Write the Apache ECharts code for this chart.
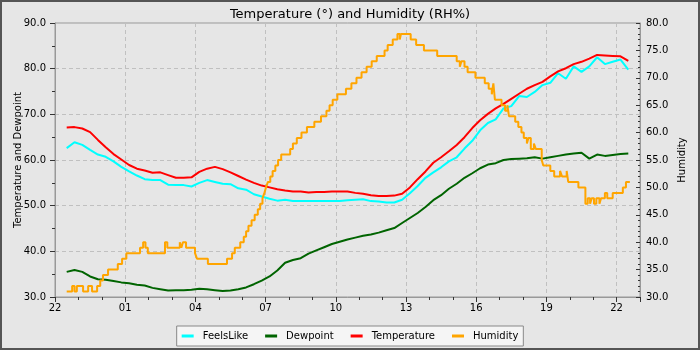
<!DOCTYPE html>
<html><head><meta charset="utf-8">
<script src="https://cdn.jsdelivr.net/npm/echarts@6/dist/echarts.min.js"></script>
<style>html,body{margin:0;padding:0;background:#e6e6e6}#c{width:700px;height:350px}</style>
</head><body><div id="c"></div>
<script>
// ---- data ----
const times = ["22:30","22:50","23:10","23:30","23:50","00:10","00:30","00:50","01:10","01:30","01:50","02:10","02:30","02:50","03:10","03:30","03:50","04:10","04:30","04:50","05:10","05:30","05:50","06:10","06:30","06:50","07:10","07:30","07:50","08:10","08:30","08:50","09:10","09:30","09:50","10:10","10:30","10:50","11:10","11:30","11:50","12:10","12:30","12:50","13:10","13:30","13:50","14:10","14:30","14:50","15:10","15:30","15:50","16:10","16:30","16:50","17:10","17:30","17:50","18:10","18:30","18:50","19:10","19:30","19:50","20:10","20:30","20:50","21:10","21:30","21:50","22:10","22:30"];
const temperature = [67.1,67.2,66.9,66.1,64.4,62.8,61.3,60.1,58.9,58.1,
  57.7,57.2,57.3,56.7,56.1,56.1,56.2,57.4,58.1,58.5,
  58.0,57.3,56.5,55.7,55.0,54.4,54.0,53.6,53.3,53.1,
  53.1,52.9,53.0,53.0,53.1,53.1,53.1,52.8,52.6,52.3,
  52.1,52.1,52.2,52.6,54.0,55.8,57.5,59.4,60.6,61.9,
  63.3,65.0,67.0,68.7,70.1,71.3,72.3,73.4,74.5,75.6,
  76.4,77.1,78.3,79.4,80.1,81.0,81.5,82.2,83.0,82.9,
  82.8,82.7,81.7];
const feelsLike = [62.6,63.9,63.3,62.2,61.2,60.7,59.7,58.5,57.5,56.6,
  55.8,55.6,55.6,54.6,54.5,54.5,54.2,55.0,55.6,55.2,
  54.8,54.7,53.8,53.5,52.5,52.0,51.5,51.1,51.3,51.0,
  51.0,51.0,51.0,51.0,51.0,51.0,51.2,51.3,51.4,51.0,
  50.9,50.7,50.7,51.3,52.7,54.3,56.1,57.3,58.4,59.7,
  60.6,62.5,64.2,66.5,68.1,68.9,71.3,71.8,74.0,73.8,
  74.9,76.4,76.9,79.0,77.8,80.5,79.3,80.5,82.5,81.0,
  81.5,82.0,79.8];
const dewpoint = [35.5,35.9,35.5,34.5,33.9,33.8,33.5,33.2,33.0,32.7,
  32.5,32.0,31.7,31.4,31.5,31.5,31.6,31.8,31.7,31.5,
  31.3,31.4,31.7,32.1,32.8,33.6,34.5,35.8,37.5,38.1,
  38.5,39.5,40.2,40.9,41.6,42.1,42.6,43.0,43.4,43.7,
  44.1,44.6,45.1,46.2,47.3,48.4,49.7,51.2,52.3,53.7,
  54.8,56.1,57.1,58.2,59.0,59.3,60.0,60.2,60.3,60.4,
  60.6,60.3,60.6,60.9,61.2,61.4,61.6,60.3,61.2,60.9,
  61.1,61.3,61.4];
const humidityTimes = ["22:30","22:44","22:50","22:56","23:12","23:25","23:35","23:48","23:56","00:03","00:16","00:41","00:52","01:03","01:38","01:46","01:52","01:58","02:42","02:48","03:20","03:24","03:28","03:36","03:59","04:04","04:32","05:21","05:34","05:41","05:55","06:04","06:10","06:16","06:24","06:32","06:40","06:46","06:52","06:57","07:01","07:06","07:12","07:18","07:25","07:32","07:40","08:03","08:10","08:20","08:32","08:46","09:05","09:22","09:36","09:44","09:52","10:04","10:26","10:40","10:53","11:06","11:19","11:32","11:45","12:05","12:13","12:26","12:38","12:44","12:47","13:12","13:26","13:46","14:20","15:10","15:18","15:22","15:30","15:38","15:58","16:22","16:32","16:40","16:44","16:48","17:05","17:14","17:20","17:24","17:40","17:48","17:56","18:02","18:10","18:14","18:20","18:28","18:33","18:48","18:52","19:10","19:20","19:35","19:40","19:52","19:56","20:22","20:40","20:46","20:52","20:56","21:02","21:08","21:16","21:20","21:30","21:36","21:50","22:16","22:24","22:34"];
const humidity = [31,32,31,32,31,32,31,32,33,34,35,36,37,38,39,40,39,38,40,39,40,39,40,39,38,37,36,37,38,39,40,41,42,43,44,45,46,47,48,49,50,51,52,53,54,55,56,57,58,59,60,61,62,63,64,65,66,67,68,69,70,71,72,73,74,75,76,77,78,77,78,77,76,75,74,73,72,73,72,71,70,69,68,67,69,66,65,64,65,63,62,61,60,59,58,59,57,58,57,55,54,53,52,53,52,53,51,50,47,48,47,48,47,48,47,48,49,48,49,50,51,51];
const seriesNames = ["FeelsLike","Dewpoint","Temperature","Humidity"];
const seriesColors = ["#00ffff","#006400","#ff0000","#ffa500"];
const xTickHours = 3;

// ---- helpers ----
function toHours(list){
  let prev = -1;
  return list.map(t => {
    const [H, M] = t.split(':').map(Number);
    let h = ((H * 60 + M) / 60 - 22 + 24) % 24;
    while (h < prev - 1e-6) h += 24;
    prev = h;
    return h;
  });
}
const hrs = toHours(times);
const hHrs = toHours(humidityTimes);
const pair = (xs, ys) => xs.map((x, i) => [x, ys[i]]);

const font = 'DejaVu Sans';
const chart = echarts.init(document.getElementById('c'), null, {renderer: 'canvas'});
chart.setOption({
  backgroundColor: '#e6e6e6',
  animation: false,
  textStyle: {fontFamily: font},
  title: {
    text: 'Temperature (°) and Humidity (RH%)',
    left: 'center', top: 3,
    textStyle: {fontFamily: font, fontSize: 13, fontWeight: 'normal', color: '#000'}
  },
  graphic: [{
    type: 'rect', silent: true, z: 100,
    shape: {x: 1, y: 1, width: 698, height: 348},
    style: {fill: 'none', stroke: '#555', lineWidth: 2}
  }],
  grid: {left: 55, right: 60, top: 23, bottom: 53, outerBoundsMode: 'none', containLabel: false,
    show: true, borderColor: '#999', borderWidth: 1, backgroundColor: 'transparent'},
  legend: {
    data: seriesNames,
    left: 'center', top: 326,
    icon: 'rect', itemWidth: 12, itemHeight: 3, itemGap: 17,
    backgroundColor: '#f5f5f5', borderColor: '#888', borderWidth: 1, borderRadius: 0,
    padding: [5, 5],
    textStyle: {fontFamily: font, fontSize: 10, color: '#000', padding: [0, 0, 0, 4]}
  },
  xAxis: {
    type: 'value', min: 0, max: 25, interval: xTickHours,
    axisLine: {show: true, lineStyle: {color: '#999'}},
    axisTick: {show: true, length: 5, lineStyle: {color: '#333'}},
    minorTick: {show: true, splitNumber: 3, length: 3, lineStyle: {color: '#333'}},
    axisLabel: {color: '#000', fontSize: 10, fontFamily: font, margin: 6, showMaxLabel: false,
      formatter: v => (v % xTickHours === 0 ? String((22 + v) % 24).padStart(2, '0') : '')},
    splitLine: {show: true, lineStyle: {color: '#c0c0c0', type: [4, 3]}}
  },
  yAxis: [{
    type: 'value', min: 30, max: 90, interval: 10, position: 'left',
    name: 'Temperature and Dewpoint', nameLocation: 'middle', nameGap: 32, nameRotate: 90, nameMoveOverlap: false,
    nameTextStyle: {fontFamily: font, fontSize: 10, color: '#000'},
    axisLine: {show: true, lineStyle: {color: '#999'}},
    axisTick: {show: true, length: 5, lineStyle: {color: '#333'}},
    minorTick: {show: true, splitNumber: 2, length: 3, lineStyle: {color: '#333'}},
    axisLabel: {color: '#000', fontSize: 10, fontFamily: font, margin: 9, formatter: v => v.toFixed(1)},
    splitLine: {show: true, lineStyle: {color: '#c0c0c0', type: [4, 3]}}
  }, {
    type: 'value', min: 30, max: 80, interval: 5, position: 'right',
    name: 'Humidity', nameLocation: 'middle', nameGap: 37, nameRotate: 90, nameMoveOverlap: false,
    nameTextStyle: {fontFamily: font, fontSize: 10, color: '#000'},
    axisLine: {show: true, lineStyle: {color: '#999'}},
    axisTick: {show: true, inside: true, length: 4, lineStyle: {color: '#333'}},
    minorTick: {show: true, splitNumber: 5, length: 2, lineStyle: {color: '#333'}},
    axisLabel: {color: '#000', fontSize: 10, fontFamily: font, margin: 6, formatter: v => v.toFixed(1)},
    splitLine: {show: false}
  }],
  series: [
    {name: seriesNames[0], type: 'line', yAxisIndex: 0, data: pair(hrs, feelsLike), showSymbol: false, symbol: 'none', lineStyle: {width: 2, color: seriesColors[0]}, itemStyle: {color: seriesColors[0]}},
    {name: seriesNames[1], type: 'line', yAxisIndex: 0, data: pair(hrs, dewpoint), showSymbol: false, symbol: 'none', lineStyle: {width: 2, color: seriesColors[1]}, itemStyle: {color: seriesColors[1]}},
    {name: seriesNames[2], type: 'line', yAxisIndex: 0, data: pair(hrs, temperature), showSymbol: false, symbol: 'none', lineStyle: {width: 2, color: seriesColors[2]}, itemStyle: {color: seriesColors[2]}},
    {name: seriesNames[3], type: 'line', yAxisIndex: 1, step: 'end', data: pair(hHrs, humidity), showSymbol: false, symbol: 'none', lineStyle: {width: 2, color: seriesColors[3]}, itemStyle: {color: seriesColors[3]}}
  ]
});
</script></body></html>
